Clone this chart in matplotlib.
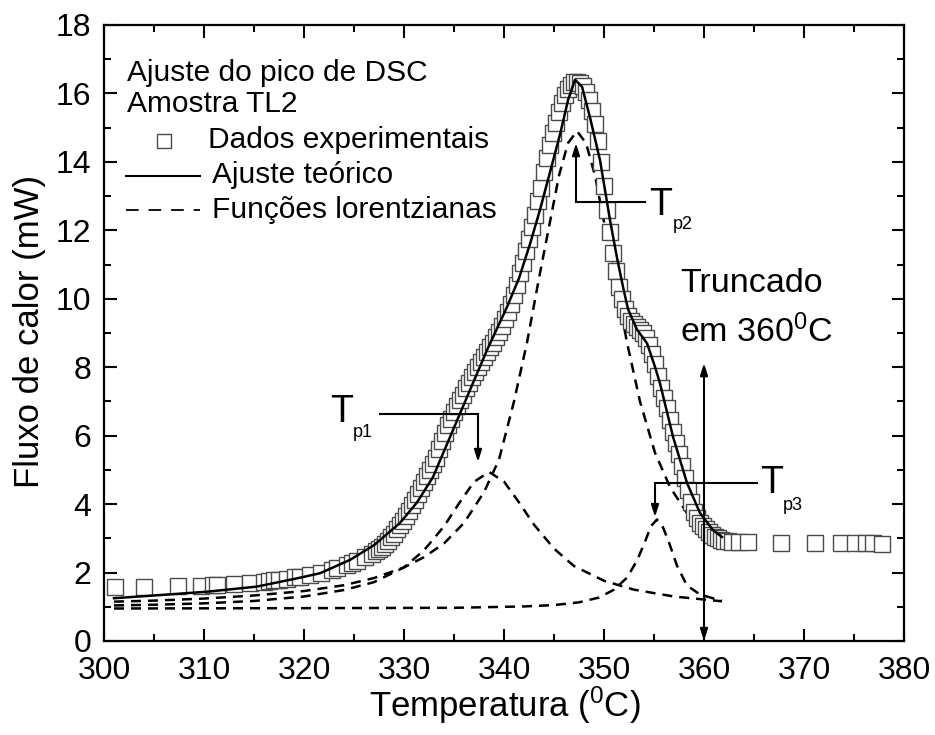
import matplotlib
matplotlib.use("Agg")
import matplotlib.pyplot as plt
from matplotlib.ticker import MultipleLocator

plt.rcParams['font.family'] = ['Liberation Sans', 'DejaVu Sans']
plt.rcParams['mathtext.fontset'] = 'custom'
plt.rcParams['mathtext.rm'] = 'Liberation Sans'

temp_exp = [301.05, 304.0, 307.4, 309.7, 310.9, 311.3, 312.95, 314.6, 316.0, 316.5,
            317.0, 317.5, 318.3, 319.1, 319.6, 320.6, 321.7, 322.8, 323.3, 324.3,
            324.8, 325.3, 326.1, 326.8,
            327.2, 327.5, 327.8, 328.1, 328.4, 328.7, 329.0, 329.3, 329.6, 329.9,
            330.2, 330.5, 330.8, 331.1, 331.4, 331.7, 332.0, 332.3, 332.6, 332.9,
            333.2, 333.5, 333.8, 334.1, 334.4, 334.7, 335.0, 335.3, 335.6, 335.9,
            336.2, 336.5, 336.8, 337.1, 337.4, 337.7, 338.0, 338.3, 338.6, 338.9,
            339.2, 339.5, 339.8, 340.1, 340.4, 340.7, 341.0, 341.3, 341.6, 341.9,
            342.2, 342.5, 342.8, 343.1, 343.4, 343.7, 344.0, 344.3, 344.6, 344.9,
            345.2, 345.5, 345.8, 346.1, 346.4, 346.7, 347.0, 347.3, 347.6, 347.9,
            348.2, 348.5, 348.8, 349.1, 349.4, 349.7, 350.0, 350.3, 350.6, 350.9,
            351.2, 351.5, 351.8, 352.1, 352.4, 352.7, 353.0, 353.3, 353.6, 353.9,
            354.2, 354.5, 354.8, 355.1, 355.4, 355.7, 356.0, 356.3, 356.6, 356.9,
            357.2, 357.5, 357.8, 358.1, 358.4, 358.7, 359.0, 359.3, 359.6, 359.9,
            360.2, 360.5, 360.8, 361.1, 361.4, 361.7, 362.0, 362.4, 362.8,
            363.5, 364.4, 367.7, 371.05, 373.7, 375.1, 376.2, 376.85, 377.8, 380.9]
fluxo_exp = [1.58, 1.58, 1.60, 1.62, 1.63, 1.63, 1.66, 1.70, 1.73, 1.75,
             1.77, 1.79, 1.82, 1.86, 1.88, 1.93, 2.00, 2.08, 2.12, 2.22,
             2.27, 2.33, 2.45, 2.55,
             2.62, 2.68, 2.75, 2.84, 2.93, 3.03, 3.14, 3.26, 3.39, 3.52,
             3.66, 3.80, 3.96, 4.12, 4.30, 4.48, 4.65, 4.83, 5.00, 5.17,
             5.36, 5.60, 5.85, 6.08, 6.30, 6.50, 6.68, 6.86, 7.03, 7.20,
             7.38, 7.55, 7.70, 7.86, 8.00, 8.15, 8.30, 8.45, 8.58, 8.72,
             8.88, 9.03, 9.20, 9.40, 9.62, 9.85, 10.1, 10.4, 10.75, 11.05,
             11.4, 11.75, 12.1, 12.45, 12.85, 13.25, 13.7, 14.1, 14.5, 14.85,
             15.15, 15.45, 15.72, 15.95, 16.12, 16.25, 16.32, 16.33, 16.30, 16.22,
             16.05, 15.82, 15.5, 15.1, 14.6, 14.0, 13.3, 12.6, 11.95, 11.35,
             10.8, 10.35, 9.98, 9.70, 9.50, 9.35, 9.25, 9.17, 9.10, 9.00,
             8.85, 8.65, 8.40, 8.10, 7.75, 7.40, 7.10, 6.80, 6.45, 6.10,
             5.78, 5.45, 5.10, 4.75, 4.40, 4.05, 3.78, 3.58, 3.45, 3.35,
             3.26, 3.18, 3.10, 3.04, 3.00, 2.96, 2.93, 2.91, 2.90,
             2.89, 2.88, 2.87, 2.87, 2.87, 2.86, 2.85, 2.85, 2.84, 2.84]

# ajuste teorico
temp_fit = [301, 305, 310.3, 315.3, 319.6, 321.6, 324.6, 327.0, 329.6, 331.3,
            332.9, 334.6, 336.3, 338.3, 340.3, 341.5, 342.6, 343.6, 344.6, 345.6,
            346.4, 347.1, 347.8, 348.6, 349.6, 350.6, 351.3, 351.9, 352.4, 353.3,
            354.3, 355.0, 355.6, 356.9, 358.3, 359.6, 360.9, 361.8]
fluxo_fit = [1.25, 1.33, 1.44, 1.59, 1.85, 1.98, 2.37, 2.80, 3.45, 4.05,
             4.79, 5.96, 7.13, 8.50, 9.76, 10.6, 11.6, 12.6, 13.7, 14.8,
             15.8, 16.4, 16.2, 15.3, 14.05, 12.3, 11.2, 10.35, 9.70, 9.10,
             8.70, 8.10, 7.53, 5.97, 4.62, 3.74, 3.24, 3.04]

# funcoes lorentzianas
temp_l1 = [301, 305, 310, 315, 320, 324, 327, 330, 332, 334, 335.5, 337, 338.5,
           340, 341.5, 343, 345, 347, 350, 353, 357, 361.8]
fluxo_l1 = [1.04, 1.06, 1.10, 1.17, 1.30, 1.49, 1.72, 2.15, 2.65, 3.35, 4.02, 4.65, 4.94,
            4.66, 4.05, 3.40, 2.70, 2.19, 1.76, 1.50, 1.30, 1.16]

temp_l2 = [301, 305, 310, 315, 320, 324, 327, 330, 332, 334, 336, 338, 339.5, 341,
           342.3, 343.5, 344.5, 345.5, 346.4, 347.3, 348.2, 349.1, 350.1, 351.1,
           352.3, 353.6, 355.1, 356.6, 358.6, 360.6, 362]
fluxo_l2 = [1.15, 1.18, 1.24, 1.33, 1.46, 1.63, 1.84, 2.15, 2.45, 2.85, 3.45, 4.35, 5.3, 7.0,
            8.72, 10.6, 12.1, 13.6, 14.55, 14.9, 14.55, 13.6, 12.1, 10.6,
            8.72, 7.0, 5.5, 4.5, 3.6, 3.0, 2.7]

temp_l3 = [301, 320, 335, 342, 345, 347.5, 349.5, 351, 352.3, 353.3, 354.1, 354.7,
           355.3, 355.9, 356.5, 357.3, 358.3, 359.6, 361.1, 361.8]
fluxo_l3 = [0.95, 0.96, 0.97, 1.01, 1.05, 1.13, 1.27, 1.50, 1.85, 2.35, 2.90, 3.36,
            3.55, 3.32, 2.88, 2.20, 1.62, 1.36, 1.23, 1.18]

fig = plt.figure(figsize=(9.35, 7.35), dpi=100)
ax = fig.add_axes([104/935, 1-641/735, 800/935, 616/735])

for tx, fy in [(temp_l1, fluxo_l1), (temp_l2, fluxo_l2), (temp_l3, fluxo_l3)]:
    ax.plot(tx, fy, color='black', lw=1.8, dashes=(4, 2.8), zorder=1)

ax.plot(temp_exp, fluxo_exp, ls='none', marker='s', ms=12, mfc='white',
        mec='#4a4a4a', mew=1.0, zorder=2)
ax.plot(temp_fit, fluxo_fit, color='black', lw=1.8, zorder=3)

ax.set_xlim(300, 380)
ax.set_ylim(0, 18)
ax.xaxis.set_major_locator(MultipleLocator(10))
ax.xaxis.set_minor_locator(MultipleLocator(5))
ax.yaxis.set_major_locator(MultipleLocator(2))
ax.yaxis.set_minor_locator(MultipleLocator(1))
ax.tick_params(which='both', direction='in', top=True, right=True, width=1.5)
ax.tick_params(which='major', length=9, labelsize=23)
ax.tick_params(axis='x', which='major', pad=11)
ax.tick_params(axis='y', which='major', pad=9)
ax.tick_params(which='minor', length=5)
for s in ax.spines.values():
    s.set_linewidth(1.6)

fig.text(505/935, 1-705/735, 'Temperatura ($\\mathregular{^0}$C)', fontsize=25,
         ha='center', va='center')
fig.text(30/935, 1-332/735, 'Fluxo de calor (mW)', fontsize=25, rotation=90,
         ha='center', va='center')

# legenda
lx = 0.02875
ax.text(lx, 0.909, 'Ajuste do pico de DSC', transform=ax.transAxes, fontsize=21.5, va='baseline')
ax.text(lx, 0.8588, 'Amostra TL2', transform=ax.transAxes, fontsize=21.5, va='baseline')
ax.plot([0.0744], [0.8117], transform=ax.transAxes, marker='s', ms=9.5, mfc='white',
        mec='#4a4a4a', mew=1.0, ls='none')
ax.text(0.13, 0.8003, 'Dados experimentais', transform=ax.transAxes, fontsize=21.5, va='baseline')
ax.plot([0.0275, 0.12], [0.7549, 0.7549], transform=ax.transAxes, color='black', lw=1.5)
ax.text(0.135, 0.7435, 'Ajuste teórico', transform=ax.transAxes, fontsize=21.5, va='baseline')
ax.plot([0.0275, 0.12], [0.6997, 0.6997], transform=ax.transAxes, color='black', lw=1.3,
        dashes=(7, 5.5))
ax.text(0.135, 0.6867, 'Funções lorentzianas', transform=ax.transAxes, fontsize=21.5, va='baseline')

# marcadores dos picos
arr = dict(arrowstyle='-|>,head_length=0.7,head_width=0.22', color='black', lw=1.5,
           shrinkA=0, shrinkB=0)
ax.plot([327.6, 337.4], [6.63, 6.63], color='black', lw=1.5, zorder=4)
ax.annotate('', xy=(337.4, 5.23), xytext=(337.4, 6.63), arrowprops=arr, zorder=4)
ax.text(322.6, 6.40, 'T', fontsize=27, va='baseline')
ax.text(324.9, 5.96, 'p1', fontsize=13, va='baseline')

ax.plot([347.2, 354.1], [12.84, 12.84], color='black', lw=1.5, zorder=4)
ax.annotate('', xy=(347.2, 14.55), xytext=(347.2, 12.84), arrowprops=arr, zorder=4)
ax.text(354.5, 12.45, 'T', fontsize=27, va='baseline')
ax.text(356.9, 12.04, 'p2', fontsize=13, va='baseline')

ax.plot([355.1, 365.3], [4.61, 4.61], color='black', lw=1.5, zorder=4)
ax.annotate('', xy=(355.1, 3.62), xytext=(355.1, 4.61), arrowprops=arr, zorder=4)
ax.text(365.6, 4.32, 'T', fontsize=27, va='baseline')
ax.text(367.9, 3.83, 'p3', fontsize=13, va='baseline')

# truncado em 360 C
arr2 = dict(arrowstyle='<|-|>,head_length=0.7,head_width=0.22', color='black', lw=1.5,
            shrinkA=0, shrinkB=0)
ax.annotate('', xy=(360.0, 0.0), xytext=(360.0, 8.12), arrowprops=arr2, zorder=4)
ax.text(357.6, 10.2, 'Truncado', fontsize=24.5, va='baseline')
ax.text(357.6, 8.74, 'em 360$\\mathregular{^0}$C', fontsize=24.5, va='baseline')

fig.savefig('out.png', dpi=100)
